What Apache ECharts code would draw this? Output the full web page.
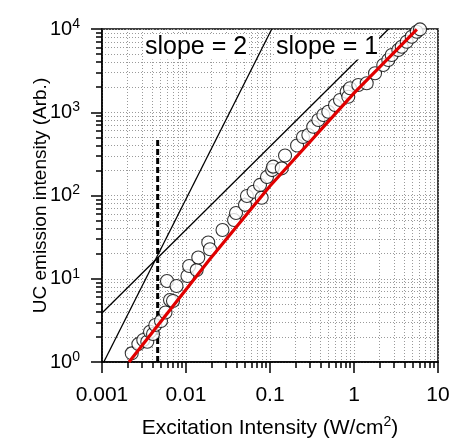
<!DOCTYPE html>
<html><head><meta charset="utf-8">
<script src="https://cdn.jsdelivr.net/npm/echarts@6/dist/echarts.min.js"></script>
<style>html,body{margin:0;padding:0;background:#fff}#c{width:451px;height:439px}</style>
</head><body><div id="c"></div>
<script>
// ---- data ----
const xData = [0.00226,0.00271,0.00310,0.00346,0.00373,0.00405,0.00431,0.00504,0.00570,0.00594,0.00645,0.00700,0.00771,0.0104,0.0109,0.0134,0.0140,0.0184,0.0193,0.0272,0.0373,0.0394,0.0504,0.0532,0.0637,0.0796,0.0760,0.0921,0.106,0.109,0.138,0.151,0.210,0.247,0.286,0.327,0.376,0.431,0.494,0.594,0.681,0.818,0.855,0.896,1.125,1.416,1.78,2.23,2.56,2.81,3.37,3.70,4.24,4.86,5.58,6.11];
const yData = [1.27,1.64,1.84,1.75,2.31,2.17,2.78,3.11,3.93,9.4,5.56,5.40,8.18,10.8,14.2,12.7,18.0,27.2,22.6,38.5,50.8,61.6,77.2,98.6,111,94,134,167,202,222,212,302,398,504,533,670,807,927,1016,1222,1403,1766,1538,1940,2125,2227,2938,3698,4245,4873,5595,6128,7036,8080,9280,9900];
const fitX = [0.0021, 0.0193, 0.1, 1, 5.6];
const fitY = [1.0, 17.3, 130, 1700, 9900];
const slope2X = [0.00105, 0.105];
const slope2Y = [1, 10000];
const slope1X = [0.001, 2.58];
const slope1Y = [3.88, 10000];
const thresholdX = [0.0046, 0.0046];
const thresholdY = [1, 480];
const xMajor = [0.001, 0.01, 0.1, 1, 10];
const xMajorLabels = ['0.001', '0.01', '0.1', '1', '10'];
const yMajor = [1, 10, 100, 1000, 10000];
const yMajorExp = ['0', '1', '2', '3', '4'];
const annotations = ['slope = 2', 'slope = 1'];
const xTitle = 'Excitation Intensity (W/cm';
const yTitle = 'UC emission intensity (Arb.)';

function minors(lo, hi) {
  const out = [];
  for (let n = lo; n < hi; n++) for (let k = 2; k <= 9; k++) out.push(Number((k * Math.pow(10, n)).toPrecision(6)));
  return out;
}
const xMinor = minors(-3, 1);
const yMinor = minors(0, 4);

const FONT = '"Liberation Sans", Arial, Helvetica, sans-serif';
const grid = {left: 102, right: 13, top: 29, bottom: 77, show: true, borderColor: '#000', borderWidth: 1.5,
  containLabel: false, outerBoundsMode: 'none'};
const gridLine = {show: true, lineStyle: {color: '#9a9a9a', type: [1, 2], width: 1}};
const zip = (a, b) => a.map((v, i) => [v, b[i]]);

const option = {
  animation: false,
  grid: grid,
  xAxis: [
    {type: 'log', logBase: 10, min: 0.001, max: 10, position: 'bottom',
     axisLine: {lineStyle: {color: '#000', width: 1.5}},
     axisTick: {customValues: xMajor, length: 11, lineStyle: {color: '#000', width: 1.5}},
     axisLabel: {customValues: xMajor, margin: 23, color: '#000', fontSize: 21, fontFamily: FONT,
       formatter: v => xMajorLabels[xMajor.findIndex(m => Math.abs(m - v) / m < 1e-6)]},
     splitLine: gridLine,
     name: '{a|' + xTitle + '}{s|2}{a|)}', nameLocation: 'middle', nameGap: 53, nameMoveOverlap: false,
     nameTextStyle: {rich: {a: {fontSize: 21, fontFamily: FONT, color: '#000'},
       s: {fontSize: 14, fontFamily: FONT, color: '#000', verticalAlign: 'bottom', padding: [0, 0, 12, 0]}}}},
    {type: 'log', logBase: 10, min: 0.001, max: 10, position: 'bottom',
     axisLine: {show: false},
     axisTick: {customValues: xMinor, length: 6, lineStyle: {color: '#000', width: 1.5}},
     axisLabel: {show: false},
     splitLine: gridLine}
  ],
  yAxis: [
    {type: 'log', logBase: 10, min: 1, max: 10000, position: 'left',
     axisLine: {lineStyle: {color: '#000', width: 1.5}},
     axisTick: {customValues: yMajor, length: 11, lineStyle: {color: '#000', width: 1.5}},
     axisLabel: {customValues: yMajor, margin: 22, color: '#000', fontFamily: FONT,
       formatter: v => '{b|10}{s|' + yMajorExp[yMajor.findIndex(m => Math.abs(m - v) / m < 1e-6)] + '}',
       rich: {b: {fontSize: 20, fontFamily: FONT, color: '#000'},
              s: {fontSize: 14, fontFamily: FONT, color: '#000', verticalAlign: 'bottom', padding: [0, 0, 10, 0]}}},
     splitLine: gridLine,
     name: yTitle, nameLocation: 'middle', nameGap: 52, nameMoveOverlap: false,
     nameTextStyle: {fontSize: 19, fontFamily: FONT, color: '#000'}},
    {type: 'log', logBase: 10, min: 1, max: 10000, position: 'left',
     axisLine: {show: false},
     axisTick: {customValues: yMinor, length: 6, lineStyle: {color: '#000', width: 1.5}},
     axisLabel: {show: false},
     splitLine: gridLine}
  ],
  series: [
    {type: 'line', data: zip(slope2X, slope2Y), showSymbol: false, symbol: 'none', z: 3,
     lineStyle: {color: '#000', width: 1.3}},
    {type: 'line', data: zip(slope1X, slope1Y), showSymbol: false, symbol: 'none', z: 3,
     lineStyle: {color: '#000', width: 1.3}},
    {type: 'line', data: zip(thresholdX, thresholdY), showSymbol: false, symbol: 'none', z: 3,
     lineStyle: {color: '#000', width: 3, type: [6, 3]}},
    {type: 'scatter', data: zip(xData, yData), symbol: 'circle', symbolSize: 13, clip: false, z: 4,
     itemStyle: {color: '#fff', borderColor: '#000', borderWidth: 1.1}},
    {type: 'line', data: zip(fitX, fitY), showSymbol: false, symbol: 'none', z: 5,
     lineStyle: {color: '#e00000', width: 3.2}}
  ],
  graphic: [
    {type: 'text', z: 100, x: 196, y: 47,
     style: {text: annotations[0], font: '25px ' + FONT, fill: '#000', align: 'center', verticalAlign: 'middle',
       textAlign: 'center', textVerticalAlign: 'middle', backgroundColor: '#fff', padding: [0, 1]}},
    {type: 'text', z: 100, x: 327, y: 47,
     style: {text: annotations[1], font: '25px ' + FONT, fill: '#000', align: 'center', verticalAlign: 'middle',
       textAlign: 'center', textVerticalAlign: 'middle', backgroundColor: '#fff', padding: [0, 1]}}
  ]
};
const chart = echarts.init(document.getElementById('c'), null, {renderer: 'canvas'});
chart.setOption(option);
</script>
</body></html>
